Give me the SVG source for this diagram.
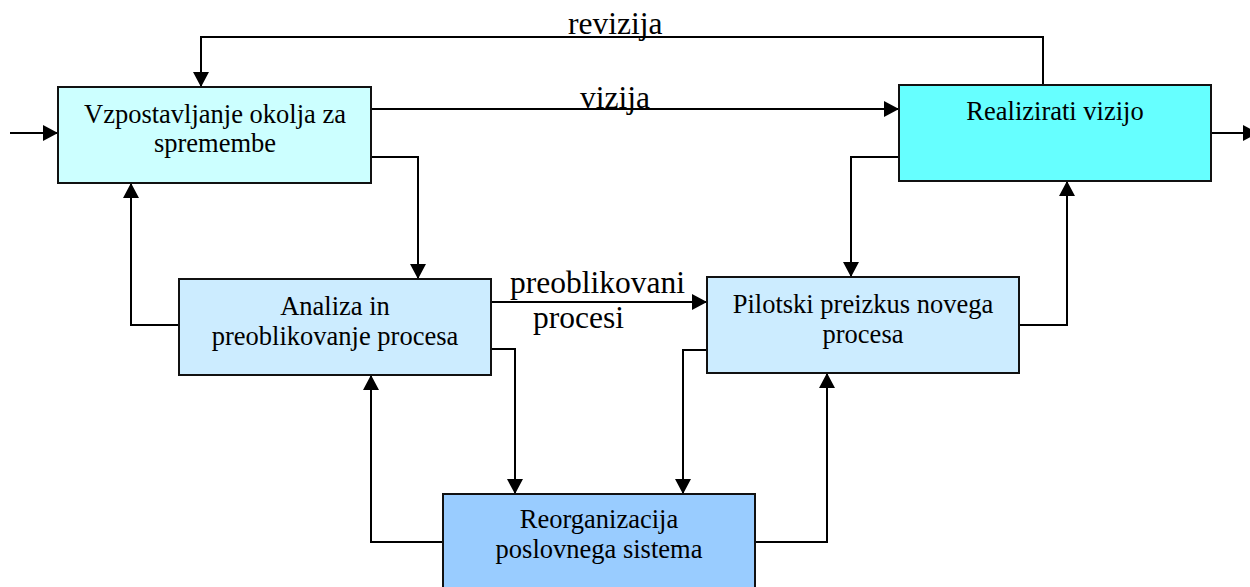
<svg xmlns="http://www.w3.org/2000/svg" width="1250" height="587" viewBox="0 0 1250 587">
  <style>
    .box { stroke: #111; stroke-width: 2; }
    .wire { fill: none; stroke: #000; stroke-width: 2; marker-end: url(#arrow); }
    text { font-family: 'Liberation Serif', 'DejaVu Serif', serif; fill: #000; }
    .txt { font-size: 26.5px; text-anchor: middle; }
    .lbl { font-size: 31.5px; }
  </style>
  <defs>
    <marker id="arrow" markerUnits="userSpaceOnUse" markerWidth="15" markerHeight="16" refX="15" refY="8" orient="auto">
      <path d="M0,0 L15,8 L0,16 z" fill="#000"/>
    </marker>
  </defs>
  <rect width="1250" height="587" fill="#fff"/>

  <g id="connectors">
    <path class="wire" d="M10,133 H58"/>
    <path class="wire" d="M1043,85 V37 H201 V87"/>
    <path class="wire" d="M371,109 H899"/>
    <path class="wire" d="M371,157 H418 V279"/>
    <path class="wire" d="M179,325 H131 V183"/>
    <path class="wire" d="M491,302 H707"/>
    <path class="wire" d="M491,349 H515 V494"/>
    <path class="wire" d="M443,542 H371 V375"/>
    <path class="wire" d="M899,157 H851 V277"/>
    <path class="wire" d="M1019,325 H1067 V181"/>
    <path class="wire" d="M707,350 H683 V494"/>
    <path class="wire" d="M755,542 H827 V373"/>
    <path class="wire" d="M1211,133 H1258"/>
    <text class="lbl" x="568" y="34" font-family="Liberation Serif, serif">revizija</text>
    <text class="lbl" x="580" y="108" font-family="Liberation Serif, serif">vizija</text>
    <text class="lbl" x="510" y="293" font-family="Liberation Serif, serif">preoblikovani</text>
    <text class="lbl" x="533" y="328" font-family="Liberation Serif, serif">procesi</text>
  </g>

  <g id="vzpostavljanje">
    <rect class="box" x="58" y="87" width="313" height="96" fill="#CCFFFF"/>
    <text class="txt" x="215" y="123">Vzpostavljanje okolja za</text>
    <text class="txt" x="215" y="152">spremembe</text>
  </g>

  <g id="realizirati">
    <rect class="box" x="899" y="85" width="312" height="96" fill="#66FFFF"/>
    <text class="txt" x="1055" y="120">Realizirati vizijo</text>
  </g>

  <g id="analiza">
    <rect class="box" x="179" y="279" width="312" height="96" fill="#CCECFF"/>
    <text class="txt" x="335" y="315">Analiza in</text>
    <text class="txt" x="335" y="345">preoblikovanje procesa</text>
  </g>

  <g id="pilotski">
    <rect class="box" x="707" y="277" width="312" height="96" fill="#CCECFF"/>
    <text class="txt" x="863" y="313">Pilotski preizkus novega</text>
    <text class="txt" x="863" y="343">procesa</text>
  </g>

  <g id="reorganizacija">
    <rect class="box" x="443" y="494" width="312" height="96" fill="#99CCFF"/>
    <text class="txt" x="599" y="528">Reorganizacija</text>
    <text class="txt" x="599" y="558">poslovnega sistema</text>
  </g>
</svg>
